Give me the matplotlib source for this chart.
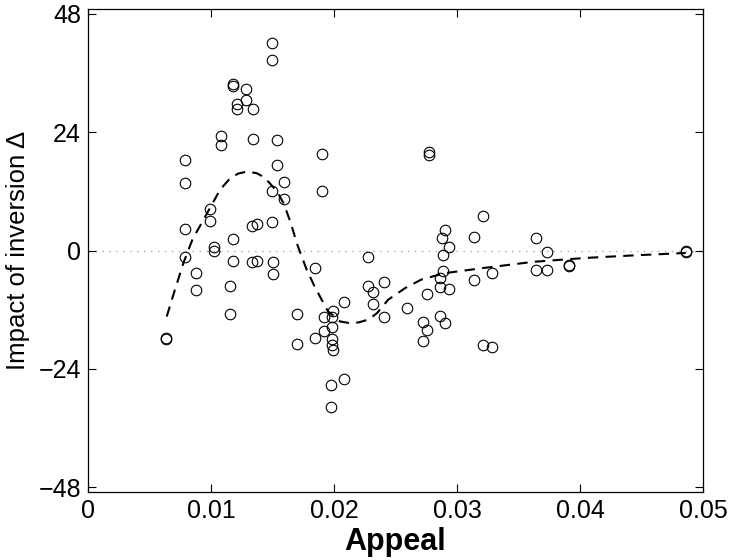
import matplotlib
matplotlib.use("Agg")
import matplotlib.pyplot as plt

# ---- data ----
appeal = [0.00637, 0.00637, 0.00789, 0.00789, 0.00789, 0.00789, 0.00875, 0.00875,
          0.00995, 0.00995, 0.01022, 0.01022, 0.01084, 0.01084, 0.01154, 0.01154,
          0.01182, 0.01182, 0.01182, 0.01182, 0.01214, 0.01214, 0.01287, 0.01287,
          0.01333, 0.01376, 0.01333, 0.01376, 0.01344, 0.01344, 0.01493, 0.01493,
          0.01493, 0.01493, 0.01507, 0.01507, 0.01537, 0.01537, 0.01596, 0.01596,
          0.01699, 0.01699, 0.01846, 0.01846, 0.01905, 0.01905, 0.01919, 0.01919,
          0.01994, 0.01981, 0.01981, 0.01981, 0.01981, 0.01994, 0.02081, 0.02081,
          0.01978, 0.01978, 0.02273, 0.02273, 0.02319, 0.02319, 0.02407, 0.02407,
          0.02596, 0.02759, 0.02726, 0.02759, 0.02726, 0.02772, 0.02772, 0.02862,
          0.02905, 0.02862, 0.02937, 0.02862, 0.02889, 0.02889, 0.02937, 0.02876,
          0.02905, 0.03138, 0.03138, 0.03287, 0.03214, 0.03214, 0.03287, 0.03642,
          0.03642, 0.03729, 0.03729, 0.03908, 0.03908, 0.04862, 0.04862]
impact = [-17.7, -17.9, 18.4, 13.6, 4.4, -1.3, -4.6, -8.0,
          8.4, 5.9, 0.8, 0.0, 23.3, 21.4, -7.2, -12.8,
          33.4, 33.7, 2.3, -2.1, 29.8, 28.8, 32.8, 30.6,
          5.0, 5.3, -2.3, -2.1, 28.8, 22.6, 42.2, 38.7,
          12.1, 5.7, -2.4, -4.8, 22.4, 17.4, 14.0, 10.5,
          -12.8, -18.9, -3.6, -17.8, 19.6, 12.0, -13.4, -16.4,
          -12.2, -13.4, -15.6, -18.0, -19.1, -20.2, -10.5, -26.1,
          -27.3, -31.7, -1.3, -7.3, -8.5, -10.8, -6.3, -13.4,
          -11.7, -8.8, -14.5, -16.2, -18.3, 19.9, 19.4, -13.2,
          -14.7, -7.4, -7.8, -5.6, -4.1, -0.9, 0.7, 2.6,
          4.2, 2.7, -5.9, -4.6, 6.9, -19.1, -19.6, 2.6,
          -4.0, -0.3, -4.0, -3.0, -3.2, 0.0, -0.4]

fit_x = [0.0064, 0.0070, 0.00775, 0.0085, 0.00938, 0.0100, 0.01073, 0.0115,
         0.0122, 0.0129, 0.0137, 0.0143, 0.0148, 0.0154, 0.0159, 0.0165,
         0.01697, 0.01778, 0.01846, 0.0195, 0.0200, 0.0205, 0.0212, 0.0220,
         0.0228, 0.0235, 0.0244, 0.0258, 0.0271, 0.0290, 0.0320, 0.0362,
         0.0405, 0.0443, 0.0486]
fit_y = [-13.4, -8.5, -2.6, 2.3, 6.2, 9.0, 12.3, 14.5,
         15.6, 16.0, 15.7, 14.9, 13.6, 11.8, 9.6, 5.5,
         1.5, -3.9, -7.5, -12.3, -13.3, -14.4, -14.7, -14.6,
         -14.0, -12.7, -10.0, -7.6, -5.9, -4.6, -3.6, -2.3,
         -1.5, -1.0, -0.5]

xticks = [0, 0.01, 0.02, 0.03, 0.04, 0.05]
xticklabels = ["0", "0.01", "0.02", "0.03", "0.04", "0.05"]
yticks = [-48, -24, 0, 24, 48]
yticklabels = ["\u221248", "\u221224", "0", "24", "48"]

plt.rcParams["font.family"] = ["Liberation Sans", "DejaVu Sans"]

fig = plt.figure(figsize=(7.29, 5.6), dpi=100)
ax = fig.add_axes([88 / 729, 1 - 492 / 560, (703 - 88) / 729, (492 - 9) / 560])

ax.axhline(0, color="#aaaaaa", lw=1.0, ls=(0, (1, 4)), zorder=1)
ax.plot(fit_x, fit_y, color="black", lw=1.5, ls=(0, (5, 3.5)), zorder=2)
ax.plot(appeal, impact, ls="none", marker="o", ms=7.6, mfc="none",
        mec="black", mew=0.8, zorder=3)

ax.set_xlim(0, 0.05)
ax.set_ylim(-49, 49)
ax.set_xticks(xticks)
ax.set_xticklabels(xticklabels)
ax.set_yticks(yticks)
ax.set_yticklabels(yticklabels)
ax.tick_params(direction="in", length=6, width=0.8, top=True, right=True,
               labelsize=18, pad=5)
for s in ax.spines.values():
    s.set_linewidth(0.9)

ax.set_xlabel("Appeal", fontsize=22, fontweight="bold", labelpad=3)
ax.set_ylabel("Impact of inversion \u0394", fontsize=18.5, labelpad=6)

fig.savefig("out.png", dpi=100)
